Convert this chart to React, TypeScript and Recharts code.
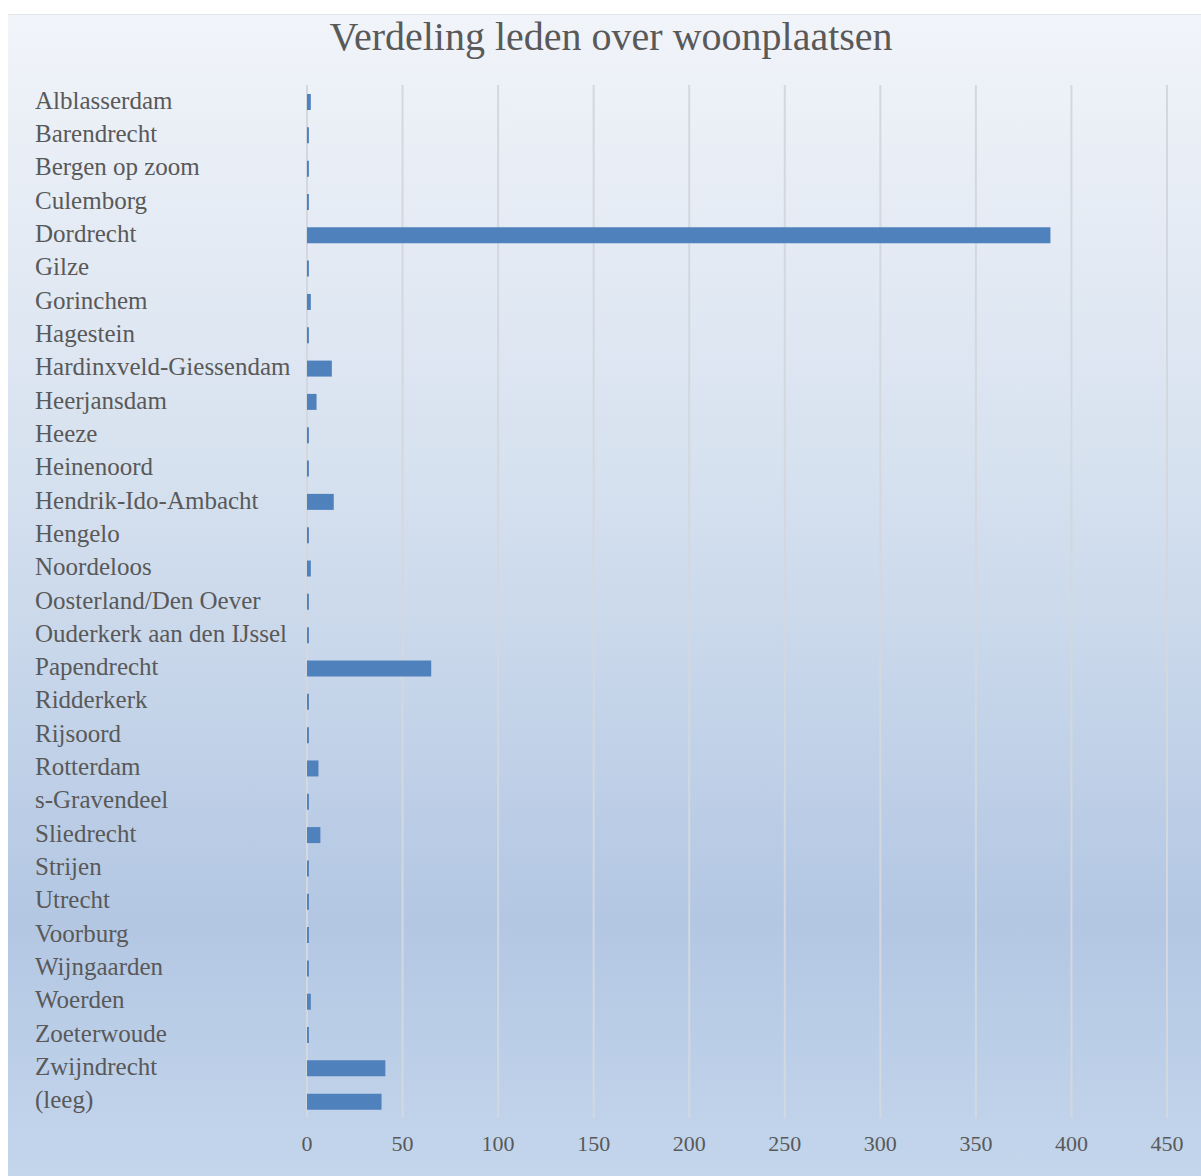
import { BarChart, Bar, XAxis, YAxis, CartesianGrid } from 'recharts';

const places = [
  'Alblasserdam', 'Barendrecht', 'Bergen op zoom', 'Culemborg', 'Dordrecht', 'Gilze',
  'Gorinchem', 'Hagestein', 'Hardinxveld-Giessendam', 'Heerjansdam', 'Heeze', 'Heinenoord',
  'Hendrik-Ido-Ambacht', 'Hengelo', 'Noordeloos', 'Oosterland/Den Oever', 'Ouderkerk aan den IJssel',
  'Papendrecht', 'Ridderkerk', 'Rijsoord', 'Rotterdam', 's-Gravendeel', 'Sliedrecht', 'Strijen',
  'Utrecht', 'Voorburg', 'Wijngaarden', 'Woerden', 'Zoeterwoude', 'Zwijndrecht', '(leeg)',
];

const members = [
  2, 1, 1, 1, 389, 1,
  2, 1, 13, 5, 1, 1,
  14, 1, 2, 1, 1,
  65, 1, 1, 6, 1, 7, 1,
  1, 1, 1, 2, 1, 41, 39,
];

const xTicks = [0, 50, 100, 150, 200, 250, 300, 350, 400, 450];

const data = places.map((place, i) => ({ place, members: members[i] }));

const textColor = '#595959';
const font = '"Liberation Serif", serif';

function PlaceTick(props: any) {
  const { y, payload } = props;
  return (
    <text x={27} y={y} dy={7} textAnchor="start" fill={textColor} fontSize={25} fontFamily={font}>
      {payload.value}
    </text>
  );
}

export default function App() {
  return (
    <div
      style={{
        position: 'absolute',
        left: 8,
        top: 14,
        width: 1193,
        height: 1162,
        background: 'linear-gradient(180deg, #f1f4f9 0%, #d6e1ef 40%, #b3c7e3 78%, #c4d6ec 100%)',
        borderTop: '1px solid #e2e5ea',
        fontFamily: font,
      }}
    >
      <div
        style={{
          position: 'absolute',
          top: -2,
          left: 0,
          width: 1206,
          textAlign: 'center',
          fontSize: 40,
          color: textColor,
        }}
      >
        Verdeling leden over woonplaatsen
      </div>
      <BarChart
        width={1193}
        height={1162}
        data={data}
        layout="vertical"
        barSize={16}
        margin={{ top: 70, right: 34, left: 0, bottom: 0 }}
        style={{ position: 'absolute', left: 0, top: 0 }}
      >
        <CartesianGrid horizontal={false} stroke="#d3d8de" strokeWidth={2} />
        <XAxis
          type="number"
          domain={[0, 450]}
          ticks={xTicks}
          axisLine={false}
          tickLine={false}
          height={59}
          tick={{ fill: textColor, fontSize: 22, fontFamily: font, dy: 9 }}
        />
        <YAxis
          type="category"
          dataKey="place"
          width={299}
          axisLine={false}
          tickLine={false}
          interval={0}
          tick={<PlaceTick />}
        />
        <Bar dataKey="members" fill="#4f81bd" isAnimationActive={false} />
      </BarChart>
    </div>
  );
}
